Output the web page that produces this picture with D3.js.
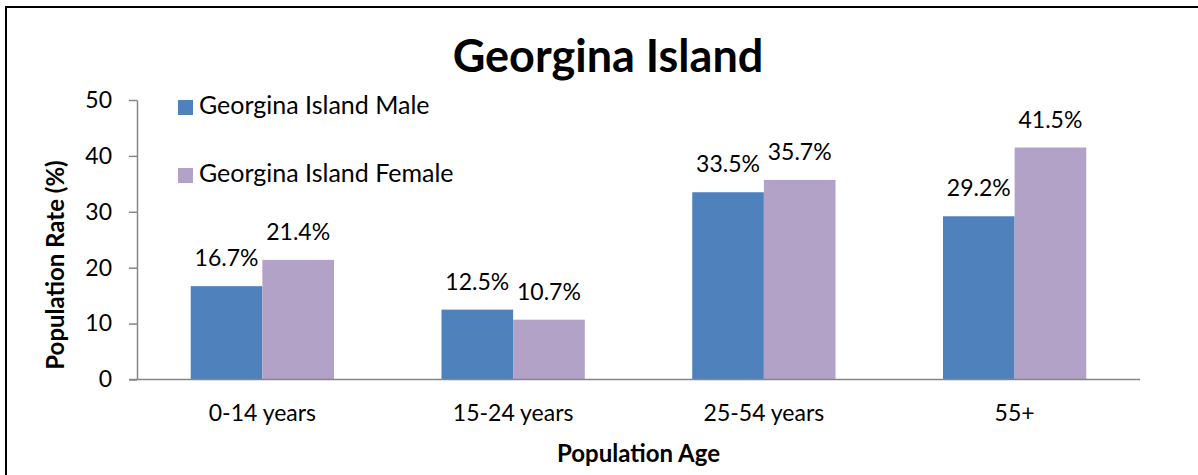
<!DOCTYPE html>
<html>
<head>
<meta charset="utf-8">
<script src="https://cdn.jsdelivr.net/npm/d3@7"></script>
<style>
  body { margin: 0; background: #fff; }
  svg { display: block; font-family: Lato, "Open Sans", sans-serif; }
</style>
</head>
<body>
<div id="chart"></div>
<script>
// Chart data
const ageGroups = ["0-14 years", "15-24 years", "25-54 years", "55+"];
const seriesNames = ["Georgina Island Male", "Georgina Island Female"];
const maleValues = [16.7, 12.5, 33.5, 29.2];
const femaleValues = [21.4, 10.7, 35.7, 41.5];
const yTicks = [0, 10, 20, 30, 40, 50];
const colors = ["#4F81BD", "#B3A2C7"];

const W = 1198, H = 475;
const plot = { left: 137, right: 1140, top: 100, bottom: 379.5 };

const svg = d3.select("#chart")
  .append("svg")
  .attr("width", W)
  .attr("height", H);

// outer frame (runs off the right and bottom edges)
svg.append("rect")
  .attr("x", 6)
  .attr("y", 7)
  .attr("width", 1400)
  .attr("height", 700)
  .attr("fill", "none")
  .attr("stroke", "#000")
  .attr("stroke-width", 2);

// Scales
const x = d3.scaleBand()
  .domain(ageGroups)
  .range([plot.left, plot.right]);

const barW = x.bandwidth() / 3.5; // Excel gap width 150%
const xSub = d3.scaleBand()
  .domain(seriesNames)
  .range([0.75 * barW, 2.75 * barW]);

const y = d3.scaleLinear()
  .domain([0, 50])
  .range([plot.bottom, plot.top]);

// rows of [category, series, value]
const rows = [];
ageGroups.forEach((g, i) => {
  rows.push({ group: g, series: seriesNames[0], value: maleValues[i], c: colors[0] });
  rows.push({ group: g, series: seriesNames[1], value: femaleValues[i], c: colors[1] });
});

// Bars
svg.selectAll(".bar")
  .data(rows)
  .enter()
  .append("rect")
  .attr("class", "bar")
  .attr("x", d => x(d.group) + xSub(d.series))
  .attr("y", d => y(d.value))
  .attr("width", xSub.bandwidth())
  .attr("height", d => y(0) - y(d.value))
  .attr("fill", d => d.c);

// Data labels
svg.selectAll(".lbl")
  .data(rows)
  .enter()
  .append("text")
  .attr("class", "lbl")
  .attr("x", d => x(d.group) + xSub(d.series) + xSub.bandwidth() / 2)
  .attr("y", d => y(d.value) - 20)
  .attr("text-anchor", "middle")
  .style("font-size", "23px")
  .attr("fill", "#000")
  .text(d => d.value.toFixed(1) + "%");

// Y axis
const yAxis = svg.append("g")
  .attr("transform", `translate(${plot.left},0)`)
  .call(d3.axisLeft(y).tickValues(yTicks).tickSize(8).tickSizeOuter(0).tickPadding(17));
yAxis.select(".domain").attr("stroke", "#868686").attr("stroke-width", 1.5);
yAxis.selectAll(".tick line").attr("stroke", "#868686").attr("stroke-width", 1.5);
yAxis.selectAll(".tick text")
  .style("font-size", "23px")
  .style("font-family", "Lato, sans-serif")
  .attr("fill", "#000");

// X axis
const xAxis = svg.append("g")
  .attr("transform", `translate(0,${plot.bottom})`)
  .call(d3.axisBottom(x).tickSize(0).tickPadding(25));
xAxis.select(".domain")
  .attr("d", `M${plot.left - 8},0H${plot.right}`)
  .attr("stroke", "#868686")
  .attr("stroke-width", 1.5);
xAxis.selectAll(".tick text")
  .style("font-size", "23px")
  .style("font-family", "Lato, sans-serif")
  .attr("fill", "#000");

// Titles
svg.append("text")
  .attr("x", 608)
  .attr("y", 72)
  .attr("text-anchor", "middle")
  .style("font-size", "45px")
  .style("font-weight", "bold")
  .text("Georgina Island");

svg.append("text")
  .attr("x", (plot.left + plot.right) / 2)
  .attr("y", 462)
  .attr("text-anchor", "middle")
  .style("font-size", "24px")
  .style("font-weight", "bold")
  .text("Population Age");

svg.append("text")
  .attr("transform", `translate(64,265) rotate(-90)`)
  .attr("text-anchor", "middle")
  .style("font-size", "24px")
  .style("font-weight", "bold")
  .text("Population Rate (%)");

// Legend
const legend = svg.selectAll(".legend")
  .data(seriesNames)
  .enter()
  .append("g")
  .attr("class", "legend")
  .attr("transform", (d, i) => `translate(178,${100 + i * 68})`);

legend.append("rect")
  .attr("width", 15)
  .attr("height", 15)
  .attr("fill", (d, i) => colors[i]);

legend.append("text")
  .attr("x", 21)
  .attr("y", 14)
  .style("font-size", "25px")
  .text(d => d);
</script>
</body>
</html>
